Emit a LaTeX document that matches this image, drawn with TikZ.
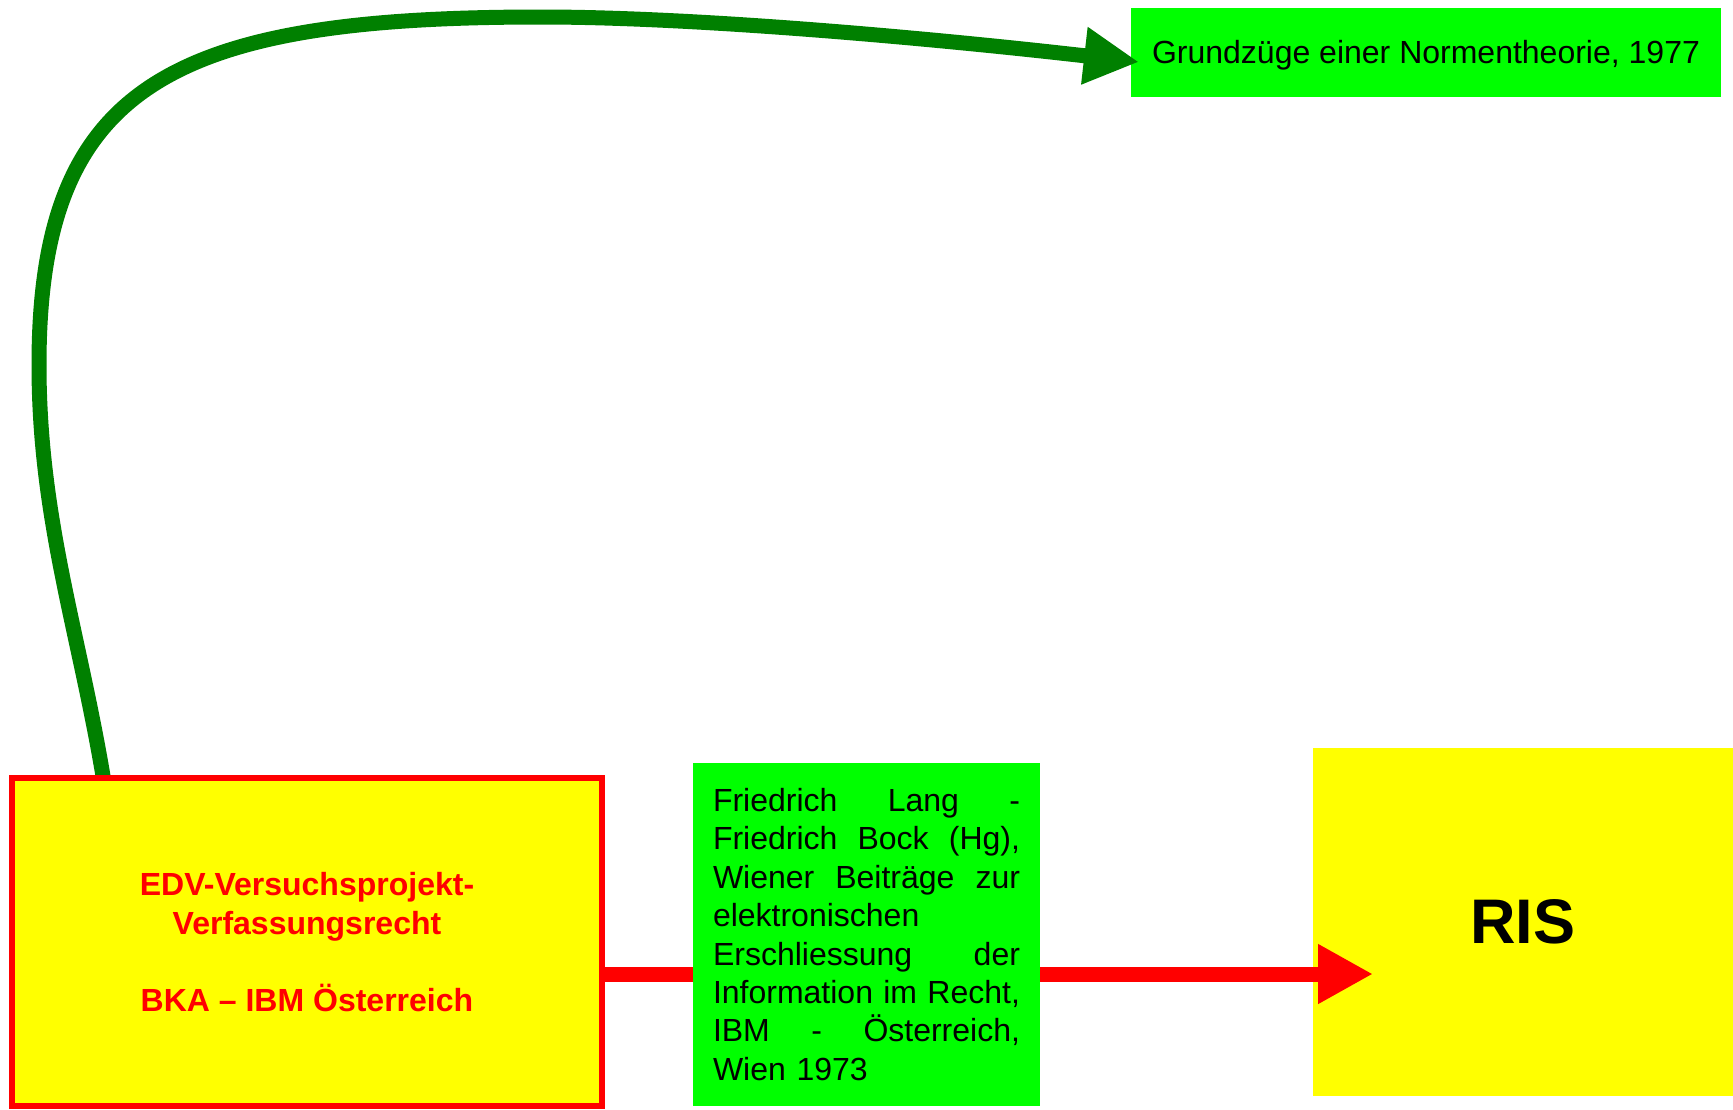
\documentclass[tikz,border=0pt]{standalone}
\usepackage{fontspec}
\setmainfont{Liberation Sans}
\usetikzlibrary{arrows.meta}
\definecolor{bgreen}{RGB}{0,255,0}
\definecolor{dgreen}{RGB}{0,128,0}
\definecolor{byellow}{RGB}{255,255,0}
\definecolor{bred}{RGB}{255,0,0}
\newcommand\jline[1]{\leavevmode\hbox to 307pt{#1}}
\begin{document}
\begin{tikzpicture}[x=1pt,y=-1pt,
  box/.style={inner sep=0pt, outer sep=0pt},
  txt/.style={font=\fontsize{32}{38.4}\selectfont},
  gcurve/.style={draw=dgreen, line width=15pt, -{Triangle[length=55pt,width=54pt]}},
  rarrow/.style={draw=bred, line width=15pt, -{Triangle[length=55pt,width=56pt]}}]
\useasboundingbox (0,0) rectangle (1733,1109);
% RIS box
\node[box, fill=byellow, minimum width=420, minimum height=348,
  font=\fontsize{63}{70}\selectfont\bfseries] (ris) at (1523,922) {RIS};
% top box
\node[box, fill=bgreen, minimum width=590, minimum height=89, txt,
  text height=22.9pt, text depth=0pt] (top) at (1426,52.5)
  {Grundzüge einer Normentheorie, 1977};
% green curve
\coordinate (gs) at (104,782);
\coordinate (gl) at (39,365);
\coordinate (gt) at (541,17);
\coordinate (ge) at (1139,62);
\draw[gcurve] (gs) .. controls (80,635) and (39,520) .. (gl)
  .. controls (39,85) and (171,17) .. (gt)
  .. controls (700,17) and (938,39) .. (ge);
% left box
\node[box, draw=bred, line width=5.5pt, fill=byellow, minimum width=590, minimum height=328,
  align=center, font=\fontsize{32}{38.4}\selectfont\bfseries, text=bred] (lbox) at (307,942)
  {EDV-Versuchsprojekt-\\Verfassungsrecht\\[38.4pt]BKA – IBM Österreich};
% red arrow
\coordinate (ra) at (602,974);
\coordinate (rb) at (1373,974);
\draw[rarrow] (ra) -- (rb);
% middle box
\node[box, fill=bgreen, minimum width=347, minimum height=343, text width=307pt,
  align=left, txt] (mid) at (866.5,934.5)
  {\jline{Friedrich\hfill Lang\hfill -}\\
   \jline{Friedrich\hfill Bock\hfill (Hg),}\\
   \jline{Wiener\hfill Beiträge\hfill zur}\\
   elektronischen\\
   \jline{Erschliessung\hfill der}\\
   \jline{Information\hfill im\hfill Recht,}\\
   \jline{IBM\hfill -\hfill Österreich,}\\
   Wien 1973};
\end{tikzpicture}
\end{document}
